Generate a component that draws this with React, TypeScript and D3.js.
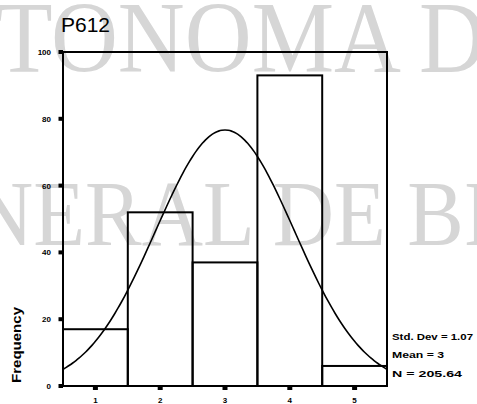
import React, { useEffect, useRef } from "react";
import * as d3 from "d3";

// 히스토그램 데이터 (P612)
const categories = [1, 2, 3, 4, 5];
const frequencies = [17, 52, 37, 93, 6];
const yTicks = [0, 20, 40, 60, 80, 100];

const title = "P612";
const stdDev = 1.07;
const mean = 3;
const nTotal = 205.64;
const statLabels = ["Std. Dev = 1.07", "Mean = 3", "N = 205.64"];

// 스캔 워터마크
const watermarkRows = ["TONOMA D", "NERAL DE BI"];

const App: React.FC = () => {
    const svgRef = useRef<SVGSVGElement | null>(null);

    useEffect(() => {
        if (!svgRef.current) return;

        const svg = d3.select(svgRef.current);
        svg.selectAll("*").remove();

        const width = 477;
        const height = 404;
        const margin = { top: 52, right: 90, bottom: 18, left: 63 };

        svg.attr("width", width).attr("height", height);

        svg.append("rect")
            .attr("width", width)
            .attr("height", height)
            .attr("fill", "#fff");

        // 워터마크
        const wm = svg.append("g")
            .attr("fill", "#d6d6d6")
            .attr("font-family", "'Liberation Serif', 'DejaVu Serif', serif");

        wm.append("text")
            .attr("x", -4)
            .attr("y", 72)
            .attr("font-size", 102)
            .attr("textLength", 490)
            .attr("lengthAdjust", "spacingAndGlyphs")
            .text(watermarkRows[0]);

        wm.append("text")
            .attr("x", -28)
            .attr("y", 245)
            .attr("font-size", 94)
            .attr("textLength", 520)
            .attr("lengthAdjust", "spacingAndGlyphs")
            .text(watermarkRows[1]);

        const x = d3
            .scaleLinear()
            .domain([0.5, categories.length + 0.5])
            .range([margin.left, width - margin.right]);

        const y = d3
            .scaleLinear()
            .domain([0, 100])
            .range([height - margin.bottom, margin.top]);

        // 제목
        svg.append("text")
            .attr("x", 61)
            .attr("y", 32)
            .attr("font-family", "'Liberation Sans', Arial, sans-serif")
            .attr("font-size", 21)
            .attr("fill", "#000")
            .text(title);

        // 막대
        svg.append("g")
            .selectAll("rect")
            .data(categories)
            .join("rect")
            .attr("x", (d) => x(d - 0.5))
            .attr("y", (_d, i) => y(frequencies[i]))
            .attr("width", (d) => x(d + 0.5) - x(d - 0.5))
            .attr("height", (_d, i) => y(0) - y(frequencies[i]))
            .attr("fill", "none")
            .attr("stroke", "#000")
            .attr("stroke-width", 2);

        // 정규 곡선
        const curveX = d3.range(0.5, categories.length + 0.5001, 0.05);
        const normal = (v: number) =>
            (nTotal / (stdDev * Math.sqrt(2 * Math.PI))) *
            Math.exp(-0.5 * ((v - mean) / stdDev) ** 2);

        const line = d3
            .line<number>()
            .x((d) => x(d))
            .y((d) => y(normal(d)))
            .curve(d3.curveBasis);

        svg.append("path")
            .datum(curveX)
            .attr("fill", "none")
            .attr("stroke", "#000")
            .attr("stroke-width", 1.6)
            .attr("d", line);

        // 프레임
        svg.append("rect")
            .attr("x", margin.left)
            .attr("y", margin.top)
            .attr("width", width - margin.right - margin.left)
            .attr("height", height - margin.bottom - margin.top)
            .attr("fill", "none")
            .attr("stroke", "#000")
            .attr("stroke-width", 2);

        // y축 눈금
        const yAxis = svg.append("g");
        yAxis.selectAll("rect")
            .data(yTicks)
            .join("rect")
            .attr("x", margin.left - 4.5)
            .attr("y", (d) => y(d) - 2)
            .attr("width", 4.5)
            .attr("height", 4)
            .attr("fill", "#000");

        yAxis.selectAll("text")
            .data(yTicks)
            .join("text")
            .attr("x", 51)
            .attr("y", (d) => y(d) + 3)
            .attr("text-anchor", "end")
            .attr("font-family", "'Liberation Sans', Arial, sans-serif")
            .attr("font-weight", "bold")
            .attr("font-size", 8)
            .attr("fill", "#000")
            .text((d) => d);

        // x축 눈금
        const xAxis = svg.append("g");
        xAxis.selectAll("rect")
            .data(categories)
            .join("rect")
            .attr("x", (d) => x(d) - 2.5)
            .attr("y", y(0))
            .attr("width", 5)
            .attr("height", 4)
            .attr("fill", "#000");

        xAxis.selectAll("text")
            .data(categories)
            .join("text")
            .attr("x", (d) => x(d))
            .attr("y", 403)
            .attr("text-anchor", "middle")
            .attr("font-family", "'Liberation Sans', Arial, sans-serif")
            .attr("font-weight", "bold")
            .attr("font-size", 8)
            .attr("fill", "#000")
            .text((d) => d);

        // y축 제목
        svg.append("text")
            .attr("transform", "translate(21,345) rotate(-90)")
            .attr("text-anchor", "middle")
            .attr("font-family", "'Liberation Sans', Arial, sans-serif")
            .attr("font-weight", "bold")
            .attr("font-size", 12)
            .attr("textLength", 76)
            .attr("lengthAdjust", "spacingAndGlyphs")
            .attr("fill", "#000")
            .text("Frequency");

        // 통계 라벨
        const statY = [340, 358, 377];
        const statLen = [81, 52, 70];
        svg.append("g")
            .selectAll("text")
            .data(statLabels)
            .join("text")
            .attr("x", 392)
            .attr("y", (_d, i) => statY[i])
            .attr("font-family", "'Liberation Sans', Arial, sans-serif")
            .attr("font-weight", "bold")
            .attr("font-size", 9)
            .attr("textLength", (_d, i) => statLen[i])
            .attr("lengthAdjust", "spacingAndGlyphs")
            .attr("fill", "#000")
            .text((d) => d);
    }, []);

    return (
        <svg
            ref={svgRef}
            style={{ position: "absolute", left: 0, top: 0, display: "block" }}
        ></svg>
    );
};

export default App;
